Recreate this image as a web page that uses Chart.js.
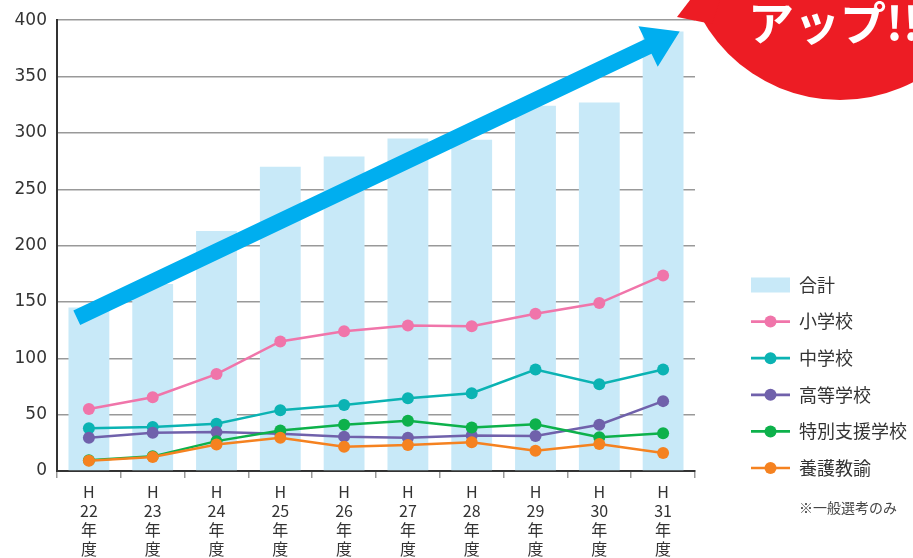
<!DOCTYPE html>
<html lang="ja">
<head>
<meta charset="utf-8">
<script src="https://cdn.jsdelivr.net/npm/chart.js@4.4.1/dist/chart.umd.min.js"></script>
<style>
  html, body { margin: 0; padding: 0; background: #fff; }
  canvas { display: block; }
</style>
</head>
<body>
<canvas id="chart" width="913" height="558"></canvas>
<script>
const years = ["22", "23", "24", "25", "26", "27", "28", "29", "30", "31"];
const yTicks = [0, 50, 100, 150, 200, 250, 300, 350, 400];
const totals = [145, 166, 213, 270, 279, 295, 294, 324, 327, 390];
const elementary = [55, 65.5, 86, 115, 124, 129, 128.5, 139.5, 149, 173.5];
const juniorHigh = [38, 39, 42, 54, 58.5, 64.5, 69, 90, 77, 90];
const highSchool = [29.5, 34, 34.5, 33, 30.5, 29.5, 31.5, 31, 41, 62];
const special = [9.5, 13, 26.5, 36, 41, 44.5, 38.5, 41.5, 30, 33.5];
const nurse = [9, 12.5, 23.5, 29.5, 21.5, 23, 25.5, 18, 24, 16];
const note = "※一般選考のみ";
const badgeText = "アップ!!";

const categories = years.map((y) => ["H", y, "年", "度"]);
const CJK = '"Noto Sans CJK JP", "Noto Sans", sans-serif';

function lineSet(label, data, color, order) {
  return {
    type: "line",
    label: label,
    data: data,
    borderColor: color,
    backgroundColor: color,
    borderWidth: 2.5,
    pointRadius: 6,
    pointBorderWidth: 0,
    pointBackgroundColor: color,
    tension: 0,
    order: order,
  };
}

// big blue arrow, ends given in scale units (category index, value)
const arrowPlugin = {
  id: "arrow",
  afterDatasetsDraw(chart) {
    const x = chart.scales.x, y = chart.scales.y, ctx = chart.ctx;
    const t = { x: x.getPixelForValue(-0.19), y: y.getPixelForValue(136) };
    const h = { x: x.getPixelForValue(9.26), y: y.getPixelForValue(390) };
    const len = Math.hypot(h.x - t.x, h.y - t.y);
    const ux = (h.x - t.x) / len, uy = (h.y - t.y) / len;
    const nx = -uy, ny = ux;
    const bx = h.x - ux * 35, by = h.y - uy * 35;
    const sw = 8, hw = 22.5;
    ctx.save();
    ctx.fillStyle = "#00AEEF";
    ctx.beginPath();
    ctx.moveTo(t.x + nx * sw, t.y + ny * sw);
    ctx.lineTo(bx + nx * sw, by + ny * sw);
    ctx.lineTo(bx + nx * hw, by + ny * hw);
    ctx.lineTo(h.x, h.y);
    ctx.lineTo(bx - nx * hw, by - ny * hw);
    ctx.lineTo(bx - nx * sw, by - ny * sw);
    ctx.lineTo(t.x - nx * sw, t.y - ny * sw);
    ctx.closePath();
    ctx.fill();
    ctx.restore();
  },
};

// red speech badge in the top right corner
const badgePlugin = {
  id: "badge",
  afterDraw(chart) {
    const ctx = chart.ctx;
    ctx.save();
    ctx.fillStyle = "#ED1C24";
    ctx.beginPath();
    ctx.arc(840, -58, 158, 0, Math.PI * 2);
    ctx.fill();
    ctx.beginPath();
    ctx.moveTo(690, 0);
    ctx.lineTo(677, 17);
    ctx.lineTo(712, 24);
    ctx.lineTo(720, 0);
    ctx.closePath();
    ctx.fill();
    ctx.fillStyle = "#fff";
    ctx.font = "bold 46px " + CJK;
    ctx.textBaseline = "middle";
    ctx.fillText(badgeText, 748, 23);
    ctx.restore();
  },
};

// legend at the right, line with dot markers
const legendPlugin = {
  id: "sideLegend",
  afterDraw(chart) {
    const ctx = chart.ctx;
    const x0 = 751, x1 = 790, tx = 799;
    let yy = 285;
    ctx.save();
    ctx.font = "18px " + CJK;
    ctx.textBaseline = "middle";
    const sets = chart.data.datasets;
    sets.forEach((ds) => {
      if (ds.type === "bar") {
        ctx.fillStyle = ds.backgroundColor;
        ctx.fillRect(x0, yy - 7.5, x1 - x0, 15);
      } else {
        ctx.strokeStyle = ds.borderColor;
        ctx.lineWidth = 2.7;
        ctx.beginPath();
        ctx.moveTo(x0, yy);
        ctx.lineTo(x1, yy);
        ctx.stroke();
        ctx.fillStyle = ds.borderColor;
        ctx.beginPath();
        ctx.arc((x0 + x1) / 2, yy, 6, 0, Math.PI * 2);
        ctx.fill();
      }
      ctx.fillStyle = "#333";
      ctx.fillText(ds.label, tx, yy);
      yy += 36.6;
    });
    ctx.font = "14px " + CJK;
    ctx.fillStyle = "#444";
    ctx.fillText(note, tx, 508);
    ctx.restore();
  },
};

new Chart(document.getElementById("chart"), {
  type: "bar",
  data: {
    labels: categories,
    datasets: [
      {
        type: "bar",
        label: "合計",
        data: totals,
        backgroundColor: "#C8E9F8",
        borderWidth: 0,
        barPercentage: 0.64,
        categoryPercentage: 1.0,
        order: 10,
      },
      lineSet("小学校", elementary, "#F075AA", 5),
      lineSet("中学校", juniorHigh, "#0BB3B3", 4),
      lineSet("高等学校", highSchool, "#7061AB", 3),
      lineSet("特別支援学校", special, "#0DB14B", 2),
      lineSet("養護教諭", nurse, "#F58220", 1),
    ],
  },
  options: {
    responsive: false,
    animation: false,
    layout: { padding: { top: 19, right: 218, left: 0, bottom: 0 } },
    plugins: {
      legend: { display: false },
      tooltip: { enabled: false },
    },
    scales: {
      x: {
        grid: {
          drawOnChartArea: false,
          drawTicks: true,
          tickLength: 7,
          color: "#999",
          lineWidth: 1.5,
          offset: true,
        },
        border: { color: "#333", width: 2 },
        ticks: {
          color: "#333",
          padding: 4,
          maxRotation: 0,
          autoSkip: false,
          font: { family: CJK, size: 16, lineHeight: 1.2 },
        },
        afterFit: (s) => { s.height = 87; },
      },
      y: {
        min: 0,
        max: 400,
        afterBuildTicks: (s) => { s.ticks = yTicks.map((v) => ({ value: v })); },
        grid: { color: "#999", lineWidth: 1.5, drawTicks: false },
        border: { color: "#333", width: 2 },
        ticks: {
          color: "#333",
          padding: 10,
          font: { family: '"DejaVu Sans", sans-serif', size: 17 },
        },
        afterFit: (s) => { s.width = 57; },
      },
    },
  },
  plugins: [arrowPlugin, badgePlugin, legendPlugin],
});
</script>
</body>
</html>
